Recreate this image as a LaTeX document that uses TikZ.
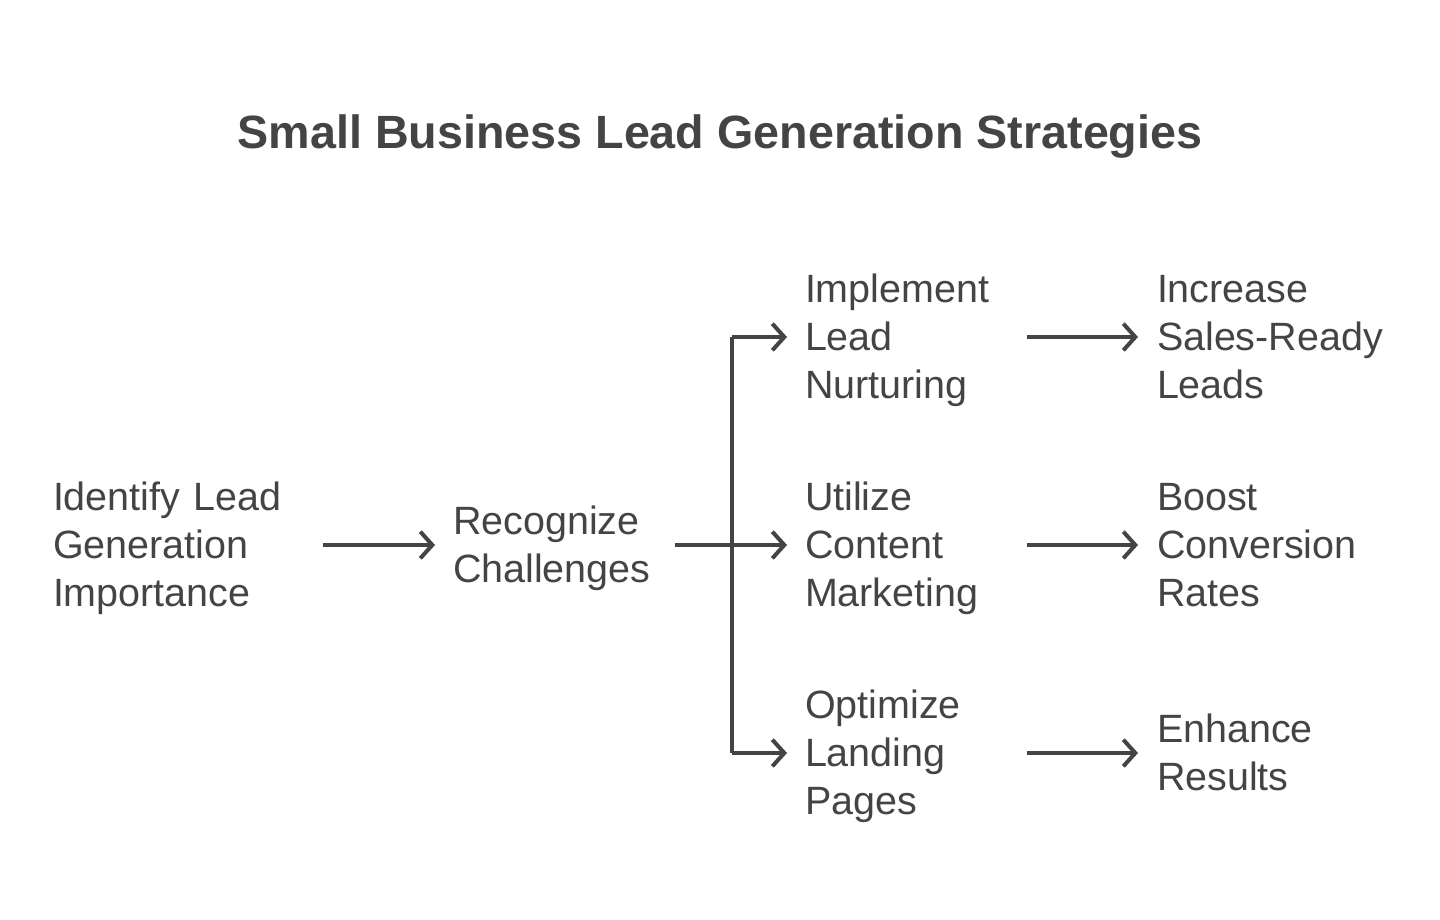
\documentclass[tikz,border=0pt]{standalone}
\usepackage{fontspec}
\setmainfont{Liberation Sans}
\usetikzlibrary{arrows.meta}
\definecolor{ink}{HTML}{444444}
\tikzset{
  lbl/.style={anchor=west, inner sep=0pt, outer sep=0pt, align=left, text=ink, yshift=-3pt,
    font=\fontsize{29.6pt}{36pt}\selectfont,
    execute at begin node=\strut, execute at end node=\strut},
  arr/.style={draw=ink, line width=3pt, -{Straight Barb[length=9pt,width=20pt,line width=3pt]}},
  ln/.style={draw=ink, line width=3pt},
}
\begin{document}
\begin{tikzpicture}[x=0.75pt,y=-0.75pt]
\useasboundingbox (0,0) rectangle (1440,920);
\node[anchor=base, text=ink, font=\fontsize{35pt}{40pt}\selectfont\bfseries] (title) at (720,149) {Small Business Lead Generation Strategies};
\node[lbl, text width=270*0.75pt] (n1) at (53,545) {Identify Lead\\Generation\\Importance};
\node[lbl, text width=222*0.75pt] (n2) at (453,545) {Recognize\\Challenges};
\node[lbl, text width=222*0.75pt] (n3a) at (805,337) {Implement\\Lead\\Nurturing};
\node[lbl, text width=222*0.75pt] (n3b) at (805,545) {Utilize\\Content\\Marketing};
\node[lbl, text width=222*0.75pt] (n3c) at (805,753) {Optimize\\Landing\\Pages};
\node[lbl, text width=250*0.75pt] (n4a) at (1157,337) {Increase\\Sales-Ready\\Leads};
\node[lbl, text width=250*0.75pt] (n4b) at (1157,545) {Boost\\Conversion\\Rates};
\node[lbl, text width=250*0.75pt] (n4c) at (1157,753) {Enhance\\Results};
\coordinate (j) at (732,545);
\coordinate (jt) at (732,337);
\coordinate (jb) at (732,753);
\draw[arr, shorten >=18*0.75pt] (n1.east |- j) -- (n2.west |- j);
\draw[ln] (n2.east |- j) -- (j);
\draw[ln] (jt) -- (jb);
\draw[arr, shorten >=18*0.75pt] (jt) -- (n3a.west |- jt);
\draw[arr, shorten >=18*0.75pt] (j) -- (n3b.west |- j);
\draw[arr, shorten >=18*0.75pt] (jb) -- (n3c.west |- jb);
\draw[arr, shorten >=19*0.75pt] (n3a.east |- jt) -- (n4a.west |- jt);
\draw[arr, shorten >=19*0.75pt] (n3b.east |- j) -- (n4b.west |- j);
\draw[arr, shorten >=19*0.75pt] (n3c.east |- jb) -- (n4c.west |- jb);
\end{tikzpicture}
\end{document}
